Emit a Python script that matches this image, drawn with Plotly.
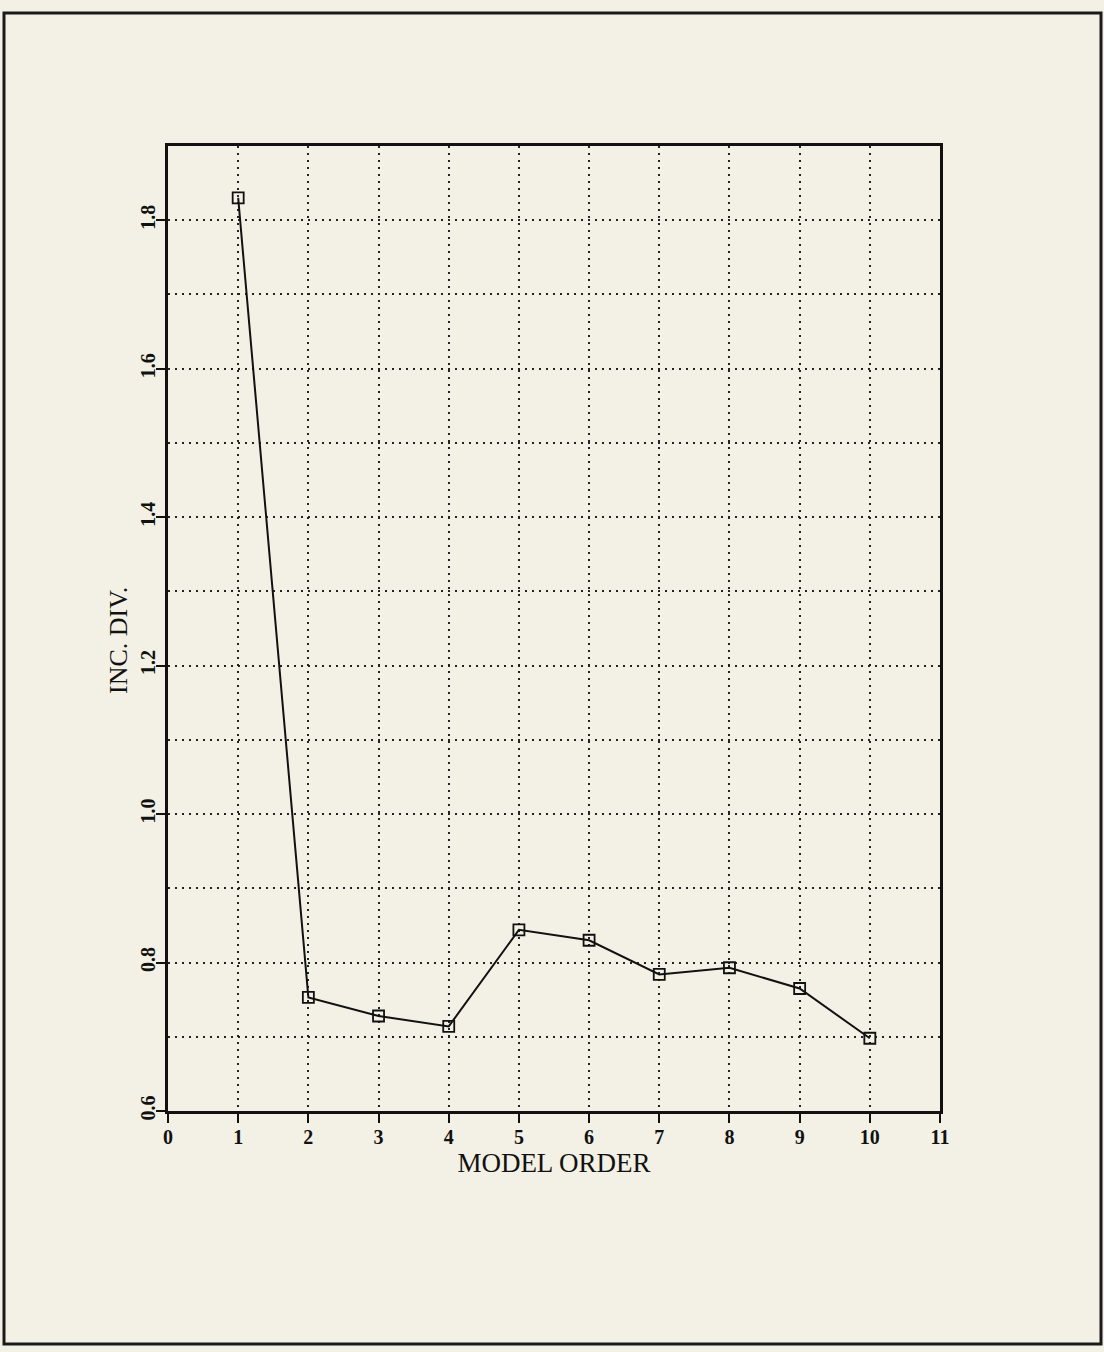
import plotly.graph_objects as go

model_order = [1, 2, 3, 4, 5, 6, 7, 8, 9, 10]
inc_div = [1.83, 0.753, 0.728, 0.714, 0.844, 0.830, 0.784, 0.793, 0.765, 0.698]
x_ticks = list(range(0, 12))
y_ticks = [0.6, 0.8, 1.0, 1.2, 1.4, 1.6, 1.8]

W, H = 1104, 1352
L, R, T, B = 168, 940, 146, 1111
pw, ph = R - L, B - T

def px(xp):
    return (xp - L) / pw

def py(yp):
    return (B - yp) / ph

bg = "#f3f1e5"
font_family = "Liberation Serif, Times New Roman, serif"

fig = go.Figure()
fig.add_trace(go.Scatter(
    x=model_order, y=inc_div, mode="lines+markers",
    line=dict(color="#111111", width=2),
    marker=dict(symbol="square-open", size=11, color="#111111",
                line=dict(width=1.8, color="#111111")),
    showlegend=False,
))

fig.update_layout(
    width=W, height=H,
    margin=dict(l=L, r=W - R, t=T, b=H - B, pad=0),
    paper_bgcolor=bg, plot_bgcolor=bg,
    font=dict(family=font_family, color="#111111", size=18),
    showlegend=False,
)

tick_font = dict(size=20, family=font_family, weight="bold", color="#111111")

fig.update_xaxes(
    range=[0, 11], tickvals=x_ticks, ticktext=[str(v) for v in x_ticks],
    showline=True, linecolor="#111111", linewidth=2.5, mirror=True,
    ticks="outside", ticklen=9, tickwidth=2, tickcolor="#111111",
    showgrid=True, gridcolor="#222222", gridwidth=2, griddash="2px,5px",
    zeroline=False,
    tickfont=tick_font, ticklabelstandoff=-3,
    title=dict(text="MODEL ORDER", font=dict(size=27, family=font_family, color="#111111"), standoff=4),
)

fig.update_yaxes(
    range=[0.6, 1.9], tickvals=y_ticks, ticktext=[f"{v:.1f}" for v in y_ticks],
    tickangle=-90,
    showline=True, linecolor="#111111", linewidth=2.5, mirror=True,
    ticks="outside", ticklen=9, tickwidth=2, tickcolor="#111111",
    showgrid=True, gridcolor="#222222", gridwidth=2, griddash="2px,5px",
    minor=dict(dtick=0.1, tick0=0.6, showgrid=True, gridcolor="#222222",
               gridwidth=2, griddash="2px,5px", ticks=""),
    zeroline=False,
    tickfont=tick_font, ticklabelstandoff=-7,
)

fig.add_annotation(
    text="INC. DIV.", textangle=-90, xref="paper", yref="paper",
    x=px(118), y=py(641), xanchor="center", yanchor="middle", showarrow=False,
    font=dict(size=26, family=font_family, color="#111111"),
)

# page frame
fig.add_shape(type="rect", xref="paper", yref="paper",
              x0=px(4), x1=px(1101), y0=py(1344), y1=py(13),
              line=dict(color="#1a1a1a", width=3), layer="below")

fig.write_html(
    "out.html",
    config={"displayModeBar": False},
    post_script="document.body.style.margin='0';document.body.style.background='%s';" % bg,
)
